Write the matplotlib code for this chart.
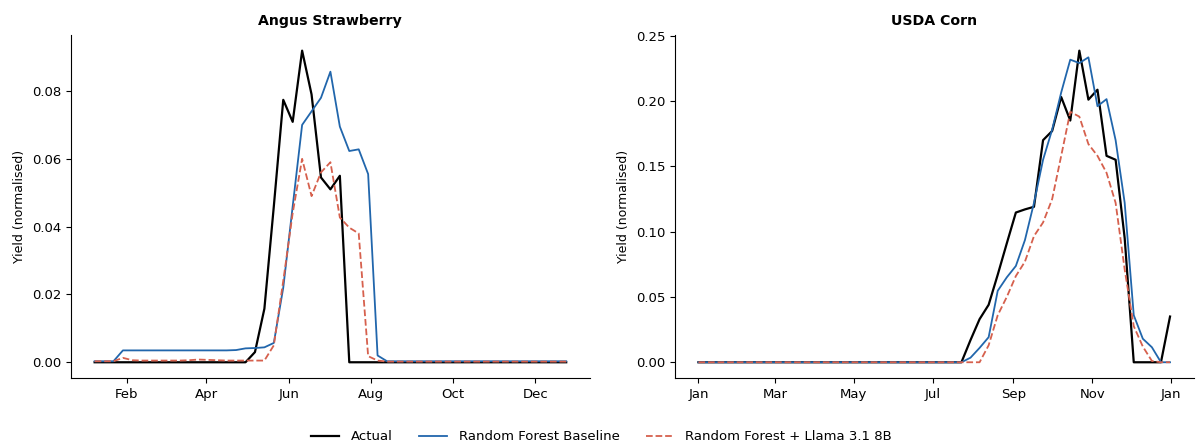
import numpy as np
import pandas as pd
import matplotlib
matplotlib.use('Agg')
import matplotlib.pyplot as plt
import matplotlib.dates as mdates

# weekly dates for the two datasets
strawberry_dates = pd.date_range('2023-01-08', periods=51, freq='7D')
corn_dates = pd.date_range('2023-01-01', periods=53, freq='7D')

# Angus strawberry yield (normalised)
strawberry_actual = [0, 0, 0, 0, 0, 0, 0, 0, 0, 0,
                     0, 0, 0, 0, 0, 0, 0, 0.003, 0.0158, 0.046,
                     0.0774, 0.0709, 0.0919, 0.079, 0.0545, 0.051, 0.055, 0, 0, 0,
                     0, 0, 0, 0, 0, 0, 0, 0, 0, 0,
                     0, 0, 0, 0, 0, 0, 0, 0, 0, 0, 0]
strawberry_rf = [0.0003, 0.0003, 0.0003, 0.0035, 0.0035, 0.0035, 0.0035, 0.0035, 0.0035, 0.0035,
                 0.0035, 0.0035, 0.0035, 0.0035, 0.0035, 0.0036, 0.0041, 0.0042, 0.0044, 0.0057,
                 0.022, 0.046, 0.070, 0.074, 0.078, 0.0857, 0.0695, 0.0623, 0.0628, 0.0555,
                 0.002, 0.0003, 0.0003, 0.0003, 0.0003, 0.0003, 0.0003, 0.0003, 0.0003, 0.0003,
                 0.0003, 0.0003, 0.0003, 0.0003, 0.0003, 0.0003, 0.0003, 0.0003, 0.0003, 0.0003, 0.0003]
strawberry_llm = [0.0003, 0.0003, 0.0003, 0.0013, 0.0006, 0.0005, 0.0005, 0.0005, 0.0005, 0.0005,
                  0.0006, 0.0008, 0.0007, 0.0006, 0.0005, 0.0005, 0.0005, 0.0005, 0.0005, 0.005,
                  0.024, 0.044, 0.060, 0.049, 0.056, 0.059, 0.0427, 0.0397, 0.038, 0.0018,
                  0.0005, 0.0002, 0.0002, 0.0002, 0.0002, 0.0002, 0.0002, 0.0002, 0.0002, 0.0002,
                  0.0002, 0.0002, 0.0002, 0.0002, 0.0002, 0.0002, 0.0002, 0.0002, 0.0002, 0.0002, 0.0002]

# USDA corn yield (normalised)
corn_actual = [0] * 30 + [0.017, 0.033, 0.044, 0.067, 0.091, 0.1146, 0.117, 0.119, 0.170, 0.177,
                          0.203, 0.185, 0.2385, 0.201, 0.2086, 0.158, 0.155, 0.095, 0, 0,
                          0, 0, 0.035]
corn_rf = [0] * 30 + [0.0035, 0.011, 0.0192, 0.0547, 0.065, 0.0737, 0.0935, 0.122, 0.155, 0.178,
                      0.2065, 0.2316, 0.229, 0.2334, 0.196, 0.2014, 0.17, 0.122, 0.036, 0.018,
                      0.0115, 0, 0]
corn_llm = [0] * 32 + [0.013, 0.036, 0.05, 0.066, 0.077, 0.0966, 0.107, 0.1248,
                       0.158, 0.1917, 0.188, 0.167, 0.158, 0.145, 0.122, 0.071, 0.0276, 0.012,
                       0.001, 0, 0]

black = 'black'
blue = '#2166ac'
red = '#d6604d'

fig, axes = plt.subplots(1, 2, figsize=(11.96, 4.44), dpi=100)
plt.subplots_adjust(left=0.0594, right=0.998, bottom=0.149, top=0.921, wspace=0.164)

panels = [
    (axes[0], 'Angus Strawberry', strawberry_dates, strawberry_actual, strawberry_rf, strawberry_llm, [2, 4, 6, 8, 10, 12]),
    (axes[1], 'USDA Corn', corn_dates, corn_actual, corn_rf, corn_llm, [1, 3, 5, 7, 9, 11]),
]

for ax, title, dates, actual, rf, llm, months in panels:
    ax.plot(dates, actual, color=black, lw=1.6, label='Actual')
    ax.plot(dates, rf, color=blue, lw=1.3, label='Random Forest Baseline')
    ax.plot(dates, llm, color=red, lw=1.3, ls='--', label='Random Forest + Llama 3.1 8B')
    ax.set_title(title, fontsize=10.2, fontweight='bold', pad=7)
    ax.set_ylabel('Yield (normalised)', fontsize=9)
    ax.xaxis.set_major_locator(mdates.MonthLocator(bymonth=months))
    ax.xaxis.set_major_formatter(mdates.DateFormatter('%b'))
    ax.tick_params(labelsize=9.5)
    ax.spines['top'].set_visible(False)
    ax.spines['right'].set_visible(False)

handles, labels = axes[0].get_legend_handles_labels()
fig.legend(handles, labels, loc='lower center', ncol=3, frameon=False,
           fontsize=9.5, bbox_to_anchor=(0.503, -0.025),
           handlelength=2.15, handletextpad=0.85, columnspacing=2.0)

plt.savefig('out.png', dpi=100)
